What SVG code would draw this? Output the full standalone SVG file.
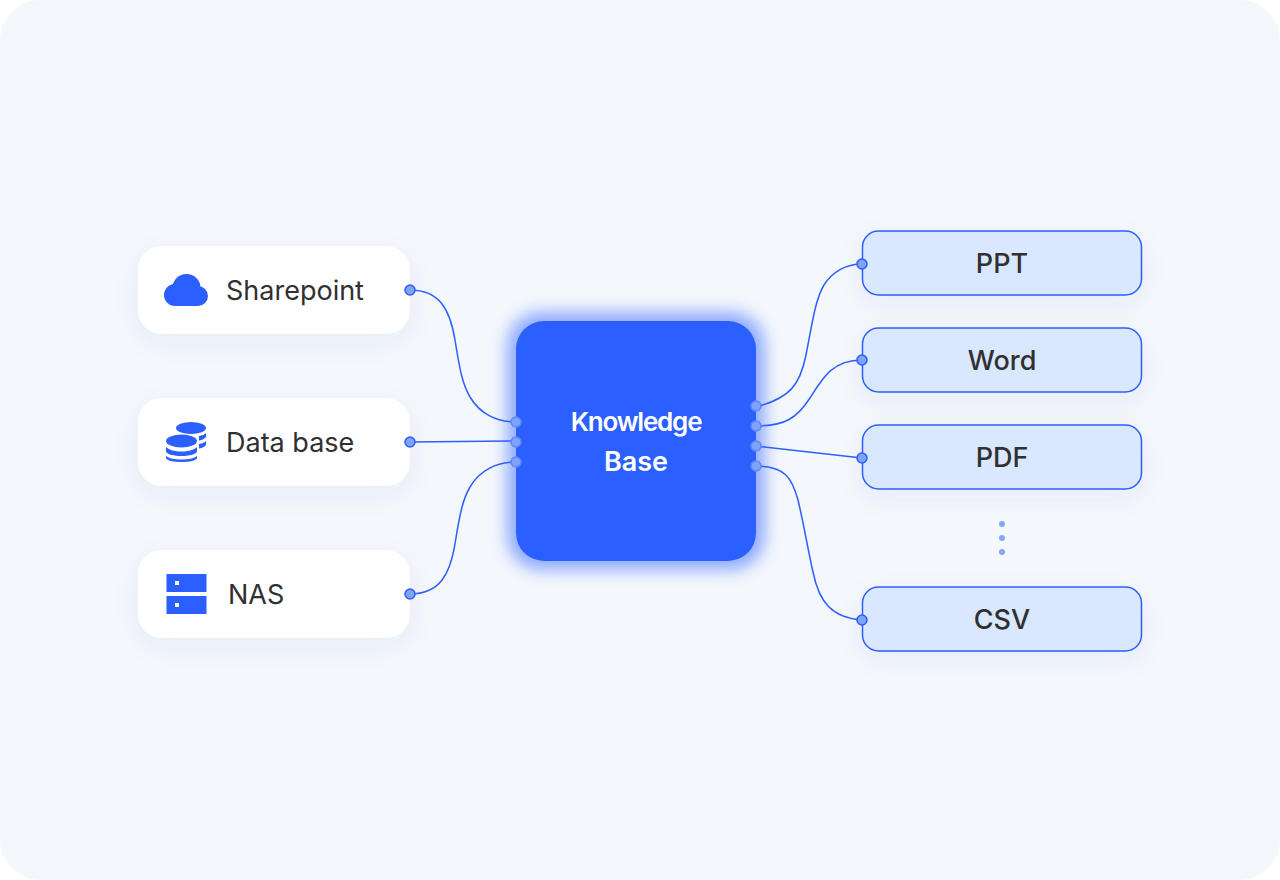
<svg xmlns="http://www.w3.org/2000/svg" width="1280" height="880" viewBox="0 0 1280 880">
<style>
text{font-family:Inter,"Liberation Sans",sans-serif;fill:#303033}
.src{font-size:27px;font-weight:400}
.dst{font-size:27px;font-weight:500;text-anchor:middle}
.kb{font-weight:600;text-anchor:middle;fill:#fff}
.card{fill:#fff;filter:url(#soft)}
.doc{fill:#d9e7ff;stroke:#2b5fff;stroke-width:1.5;filter:url(#soft)}
.ico{fill:#2b5fff}
.wire{fill:none;stroke:#2b5fff;stroke-width:1.5}
.port{fill:#7fa3fb;stroke:#2b5fff;stroke-width:1.5}
.portk{fill:#7fa3fb;stroke:#5f87fb;stroke-width:1.5}
.dot{fill:#85a7fb}
</style>
<defs>
<filter id="soft" x="-20%" y="-50%" width="140%" height="220%"><feDropShadow dx="0" dy="8" stdDeviation="12" flood-color="#2b4f9f" flood-opacity="0.06"/></filter>
<filter id="glow" x="-25%" y="-25%" width="150%" height="150%"><feGaussianBlur stdDeviation="8"/></filter>
</defs>
<rect width="1280" height="880" fill="#ffffff"/>
<rect width="1280" height="880" rx="40" fill="#f4f7fc"/>
<g id="node-sharepoint">
<rect class="card" x="138" y="246" width="272" height="88" rx="24"/>
<g class="ico"><circle cx="186.500" cy="288" r="14"/><circle cx="175" cy="295" r="11"/><circle cx="198" cy="296" r="10"/><rect x="175" y="290" width="23" height="16"/></g>
<text class="src" x="226" y="300">Sharepoint</text>
</g>
<g id="node-database">
<rect class="card" x="138" y="398" width="272" height="88" rx="24"/>
<g class="ico">
<ellipse cx="191" cy="428" rx="15" ry="6"/>
<path d="M199 436c3-.5 5.500-1.500 7-3v4c-1 1.500-3.500 3-7 3.500zM199 444c3-.500 5.500-1.500 7-3v4c-1 1.500-3.500 3-7 3.500z"/>
<ellipse cx="181.500" cy="441" rx="15.500" ry="6.500"/>
<path d="M166 447c3 3 9 4.500 15.500 4.500s12.500-1.500 15.500-4.500v4.500c-1 3-8 4.500-15.500 4.500s-14.500-1.500-15.500-4.500zM166 456c3 2.500 9 3.500 15.500 3.500s12.500-1 15.500-3.500v2.500c-2 2.500-8 3.500-15.500 3.500s-13.500-1-15.500-3.500z"/>
</g>
<text class="src" x="226" y="452">Data base</text>
</g>
<g id="node-nas">
<rect class="card" x="138" y="550" width="272" height="88" rx="24"/>
<path class="ico" fill-rule="evenodd" d="M166.500 574h40v18h-40zM175 581v4h4v-4zM166.500 596h40v18h-40zM175 603v4h4v-4z"/>
<text class="src" x="228" y="604">NAS</text>
</g>
<g id="node-kb">
<rect x="507" y="312" width="258" height="258" rx="34" fill="#2b5fff" opacity="0.5" filter="url(#glow)"/>
<rect x="516" y="321" width="240" height="240" rx="28" fill="#2b5fff"/>
<text class="kb" x="636" y="431" font-size="26" letter-spacing="-1.2">Knowledge</text>
<text class="kb" x="636" y="471" font-size="27">Base</text>
</g>
<g id="node-ppt"><rect class="doc" x="862.500" y="231" width="279" height="64" rx="16"/><text class="dst" x="1002" y="273">PPT</text></g>
<g id="node-word"><rect class="doc" x="862.500" y="328" width="279" height="64" rx="16"/><text class="dst" x="1002" y="370">Word</text></g>
<g id="node-pdf"><rect class="doc" x="862.500" y="425" width="279" height="64" rx="16"/><text class="dst" x="1002" y="467">PDF</text></g>
<g id="node-csv"><rect class="doc" x="862.500" y="587" width="279" height="64" rx="16"/><text class="dst" x="1002" y="629">CSV</text></g>
<g id="ellipsis"><circle class="dot" cx="1002" cy="524" r="3"/><circle class="dot" cx="1002" cy="538" r="3"/><circle class="dot" cx="1002" cy="552" r="3"/></g>
<g id="connectors">
<path class="wire" d="M410 290C440 290 450 310 455 340C460 372 463 385 470 397C480 414 497 422 516 422"/>
<path class="wire" d="M410 442L516 441"/>
<path class="wire" d="M410 594C440 594 450 574 455 544C460 512 463 499 470 487C480 470 497 462 516 462"/>
<path class="wire" d="M756 407C790 398 800 385 806 355C812 325 815 300 824 285C832 272 846 264 862 264"/>
<path class="wire" d="M756 426C785 426 797 418 810 398C822 379 832 360 862 360"/>
<path class="wire" d="M756 446L862 458"/>
<path class="wire" d="M756 466C785 466 792 478 798 500C804 525 808 550 813 572C819 602 832 618 862 620"/>
<circle class="port" cx="410" cy="290" r="5"/><circle class="port" cx="410" cy="442" r="5"/><circle class="port" cx="410" cy="594" r="5"/>
<circle class="portk" cx="516" cy="422" r="5"/><circle class="portk" cx="516" cy="442" r="5"/><circle class="portk" cx="516" cy="462" r="5"/>
<circle class="portk" cx="756" cy="406" r="5"/><circle class="portk" cx="756" cy="426" r="5"/><circle class="portk" cx="756" cy="446" r="5"/><circle class="portk" cx="756" cy="466" r="5"/>
<circle class="port" cx="862" cy="264" r="5"/><circle class="port" cx="862" cy="360" r="5"/><circle class="port" cx="862" cy="458" r="5"/><circle class="port" cx="862" cy="620" r="5"/>
</g>
</svg>
